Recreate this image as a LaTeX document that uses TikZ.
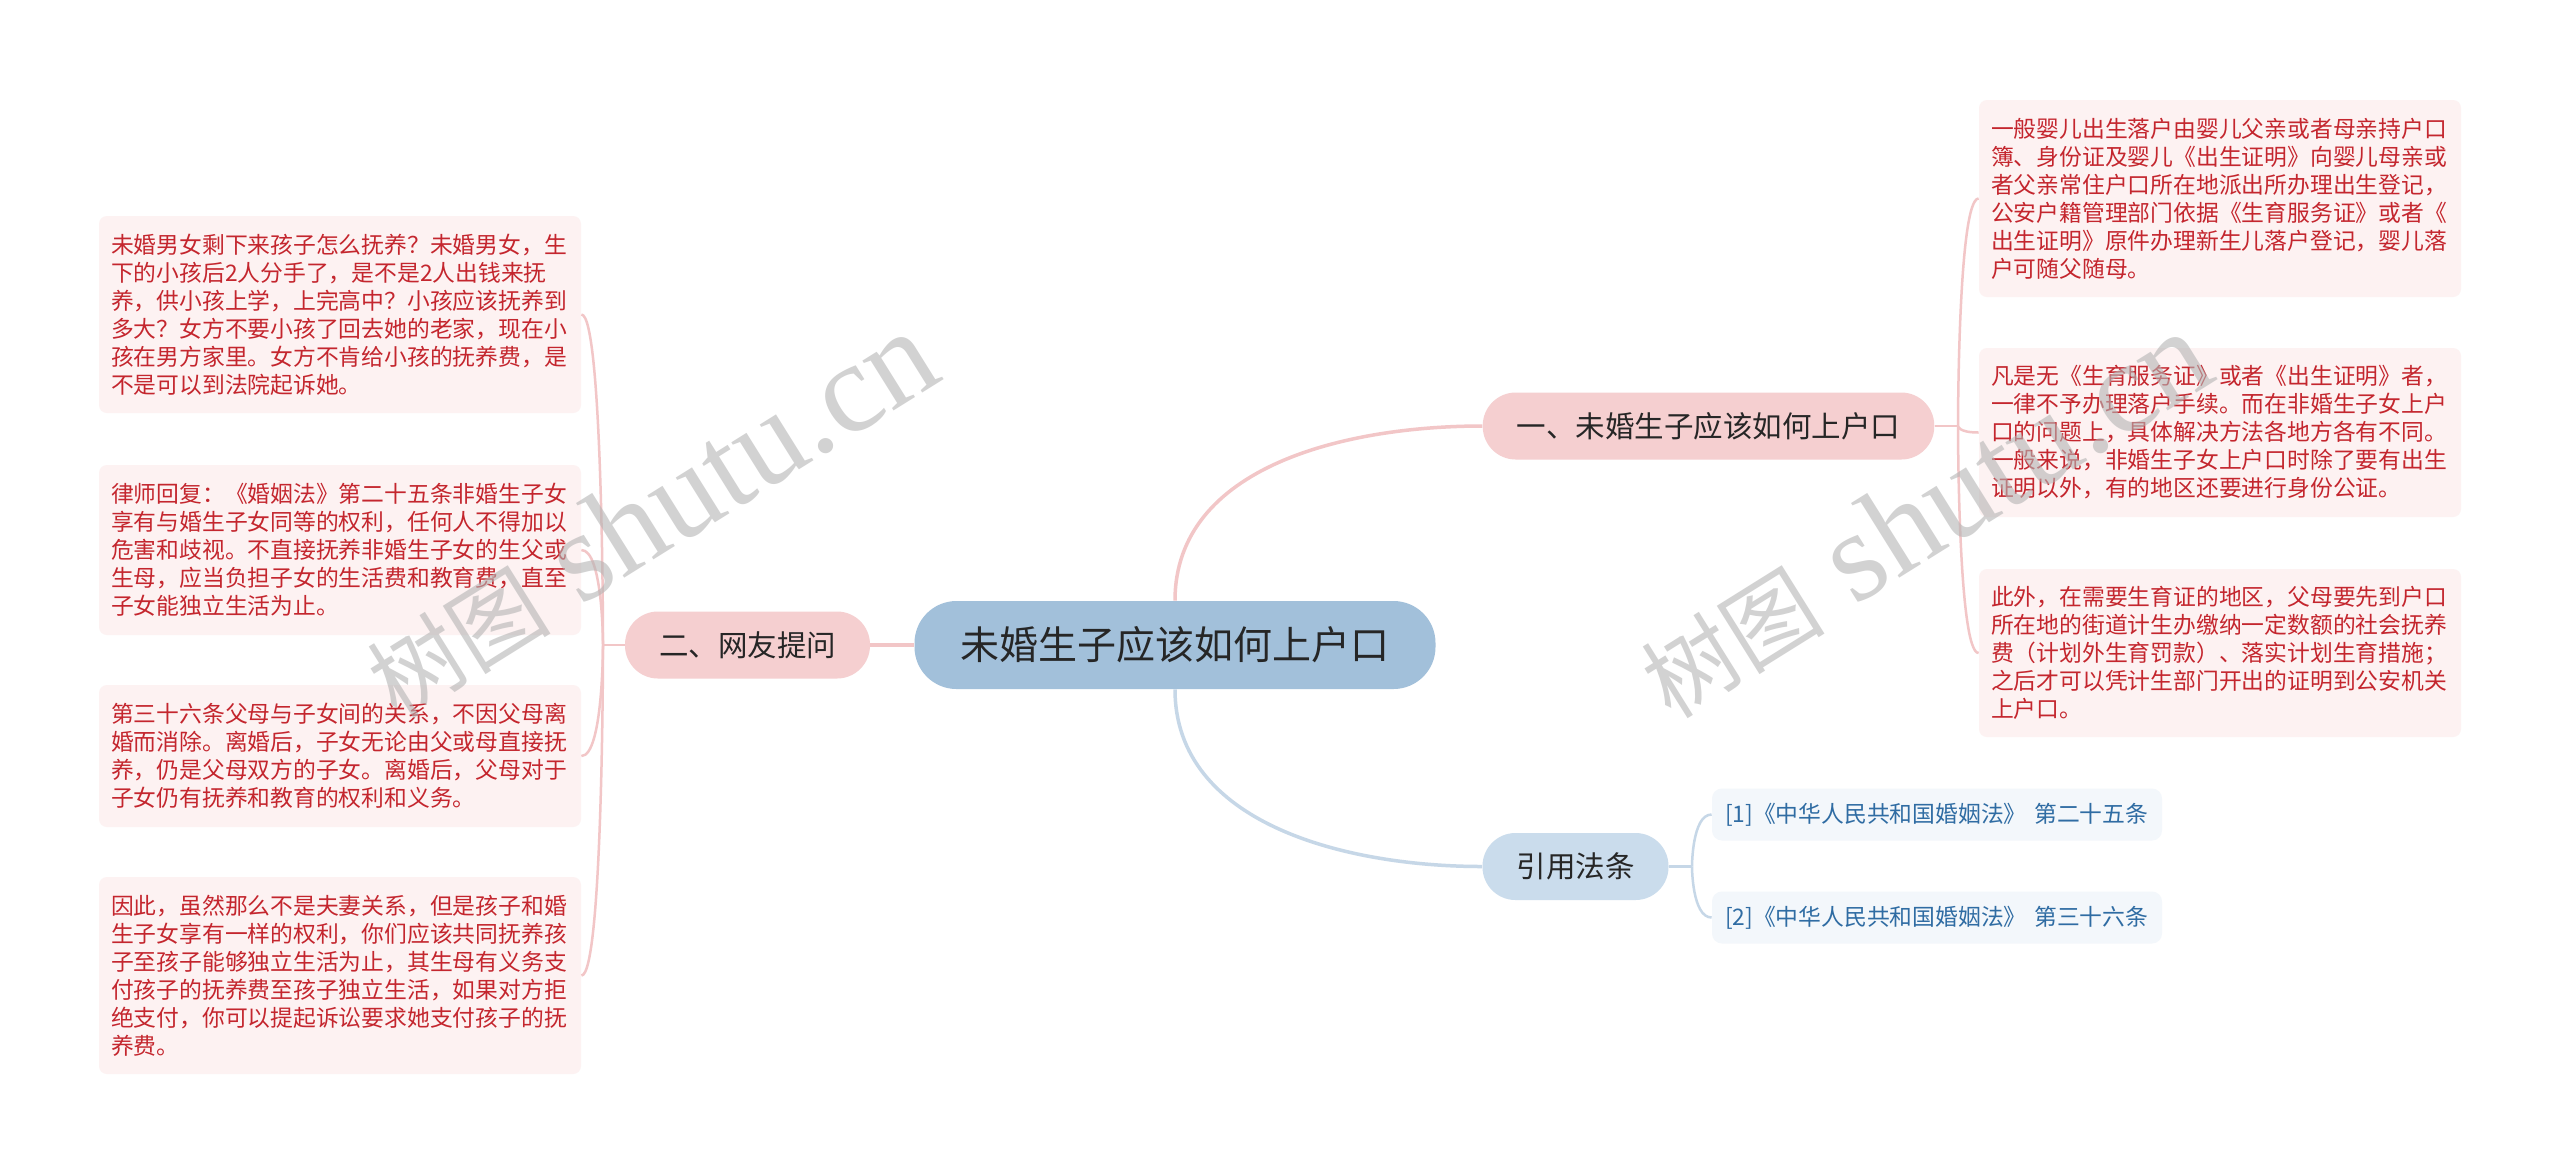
\documentclass[tikz,border=0pt]{standalone}
\usepackage{fontspec}
\setmainfont{Noto Sans CJK SC}
\newfontfamily\marklatin{Liberation Serif}
\definecolor{rootblue}{HTML}{A2C0DA}
\definecolor{topicpink}{HTML}{F5CFD0}
\definecolor{topicblue}{HTML}{CADCEC}
\definecolor{leafpink}{HTML}{FDF2F2}
\definecolor{leafred}{HTML}{C4262E}
\definecolor{citefill}{HTML}{F3F7FB}
\definecolor{citeblue}{HTML}{2F6CA3}
\definecolor{linkpink}{HTML}{F2C6C7}
\definecolor{linkblue}{HTML}{C6D7E7}
\definecolor{marktext}{HTML}{B4B4B4}

\begin{document}
\begin{tikzpicture}[x=0.5pt, y=-0.5pt,
    mainbox/.style={fill=rootblue, text=black!85, rounded corners=21pt, inner xsep=23pt, minimum height=44pt, font=\fontsize{19.5}{22}\selectfont},
    topic/.style={fill=topicpink, text=black!85, rounded corners=16.5pt, inner xsep=17pt, minimum height=33.5pt, font=\fontsize{14.75}{17}\selectfont},
    leaf/.style={fill=leafpink, text=leafred, rounded corners=4pt, align=left, text width=229pt, inner xsep=6pt, inner ysep=0pt, font=\fontsize{11.4}{14}\selectfont},
    cite/.style={fill=citefill, text=citeblue, rounded corners=5pt, align=left, text width=212pt, inner xsep=6.5pt, minimum height=26pt, font=\fontsize{11.4}{14}\selectfont},
    link/.style={draw=linkpink, line width=1.75pt},
    sublink/.style={draw=linkpink, line width=1.25pt},
    watermark/.style={text=marktext, text opacity=0.6, rotate=32}
  ]
  \fill[white, use as bounding box] (0,0) rectangle (2560,1175);

  % centre and topics
  \node[mainbox] (main) at (1175,645) {未婚生子应该如何上户口};
  \node[topic] (net) at (747.5,645) {二、网友提问};
  \node[topic] (howto) at (1708.5,426) {一、未婚生子应该如何上户口};
  \node[topic, fill=topicblue] (law) at (1575.5,866.5) {引用法条};

  % right leaves
  \node[leaf, minimum height=98.5pt] (how1) at (2220,198.5) {一般婴儿出生落户由婴儿父亲或者母亲持户口\\簿、身份证及婴儿《出生证明》向婴儿母亲或\\者父亲常住户口所在地派出所办理出生登记，\\公安户籍管理部门依据《生育服务证》或者《\\出生证明》原件办理新生儿落户登记，婴儿落\\户可随父随母。};
  \node[leaf, minimum height=84.5pt] (how2) at (2220,432.5) {凡是无《生育服务证》或者《出生证明》者，\\一律不予办理落户手续。而在非婚生子女上户\\口的问题上，具体解决方法各地方各有不同。\\一般来说，非婚生子女上户口时除了要有出生\\证明以外，有的地区还要进行身份公证。};
  \node[leaf, minimum height=84pt] (how3) at (2220,653) {此外，在需要生育证的地区，父母要先到户口\\所在地的街道计生办缴纳一定数额的社会抚养\\费（计划外生育罚款）、落实计划生育措施；\\之后才可以凭计生部门开出的证明到公安机关\\上户口。};

  % left leaves
  \node[leaf, minimum height=98.5pt] (qa1) at (340,314.5) {未婚男女剩下来孩子怎么抚养？未婚男女，生\\下的小孩后2人分手了，是不是2人出钱来抚\\养，供小孩上学，上完高中？小孩应该抚养到\\多大？女方不要小孩了回去她的老家，现在小\\孩在男方家里。女方不肯给小孩的抚养费，是\\不是可以到法院起诉她。};
  \node[leaf, minimum height=85pt] (qa2) at (340,550) {律师回复：《婚姻法》第二十五条非婚生子女\\享有与婚生子女同等的权利，任何人不得加以\\危害和歧视。不直接抚养非婚生子女的生父或\\生母，应当负担子女的生活费和教育费，直至\\子女能独立生活为止。};
  \node[leaf, minimum height=71pt] (qa3) at (340,756) {第三十六条父母与子女间的关系，不因父母离\\婚而消除。离婚后，子女无论由父或母直接抚\\养，仍是父母双方的子女。离婚后，父母对于\\子女仍有抚养和教育的权利和义务。};
  \node[leaf, minimum height=98.5pt] (qa4) at (340,975.5) {因此，虽然那么不是夫妻关系，但是孩子和婚\\生子女享有一样的权利，你们应该共同抚养孩\\子至孩子能够独立生活为止，其生母有义务支\\付孩子的抚养费至孩子独立生活，如果对方拒\\绝支付，你可以提起诉讼要求她支付孩子的抚\\养费。};

  % citations
  \node[cite] (law1) at (1937,814.5) {[1]《中华人民共和国婚姻法》 第二十五条};
  \node[cite] (law2) at (1937,917.5) {[2]《中华人民共和国婚姻法》 第三十六条};

  % links from the centre
  \draw[link] (main.west) -- (net.east);
  \draw[link] (main.north) .. controls +(0,-135) and +(-135,0) .. (howto.west);
  \draw[link, draw=linkblue] (main.south) .. controls +(0,135) and +(-135,0) .. (law.west);

  % brackets to the leaves
  \coordinate (howfork) at (1958,426);
  \coordinate (netfork) at (603,645);
  \coordinate (lawfork) at (1692,866.5);
  \draw[sublink] (howto.east) -- (howfork);
  \draw[sublink] (net.west) -- (netfork);
  \draw[sublink, draw=linkblue] (law.east) -- (lawfork);
  \foreach \leaf in {how1,how2,how3}
    \draw[sublink] (howfork) .. controls (howfork) and (howfork |- \leaf.west) .. (\leaf.west);
  \foreach \leaf in {qa1,qa2,qa3,qa4}
    \draw[sublink] (netfork) .. controls (netfork) and (netfork |- \leaf.east) .. (\leaf.east);
  \foreach \leaf in {law1,law2}
    \draw[sublink, draw=linkblue] (lawfork) .. controls (lawfork) and (lawfork |- \leaf.west) .. (\leaf.west);

  % watermarks
  \node[watermark] (markleft) at (650,515) {{\fontsize{46}{46}\selectfont 树图}{\marklatin\fontsize{64}{64}\selectfont\ shutu.cn}};
  \node[watermark] (markright) at (1924,515) {{\fontsize{46}{46}\selectfont 树图}{\marklatin\fontsize{64}{64}\selectfont\ shutu.cn}};
\end{tikzpicture}
\end{document}
